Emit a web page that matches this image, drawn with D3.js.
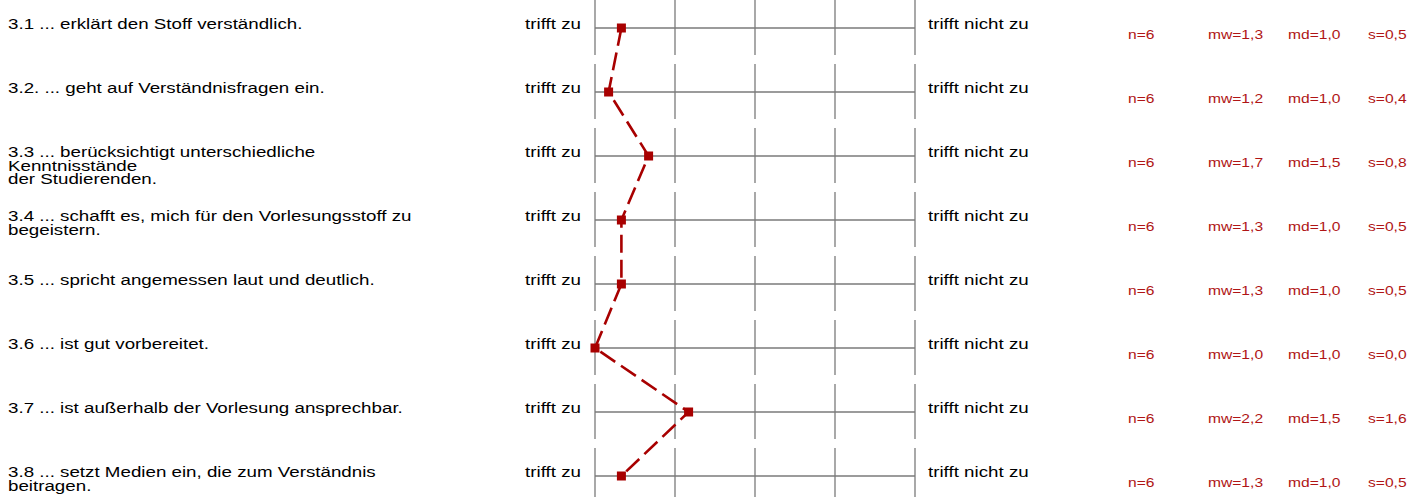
<!DOCTYPE html>
<html>
<head>
<meta charset="utf-8">
<script src="https://cdn.jsdelivr.net/npm/d3@7/dist/d3.min.js"></script>
<style>
  html, body { margin: 0; padding: 0; background: #fff; }
  svg { display: block; }
  text { font-family: "Liberation Sans", Arial, sans-serif; }
</style>
</head>
<body>
<svg id="chart" width="1423" height="497"></svg>
<script>
// Survey items (question text, possibly wrapped over several lines)
const items = [
  ["3.1 ... erklärt den Stoff verständlich."],
  ["3.2. ... geht auf Verständnisfragen ein."],
  ["3.3 ... berücksichtigt unterschiedliche", "Kenntnisstände", "der Studierenden."],
  ["3.4 ... schafft es, mich für den Vorlesungsstoff zu", "begeistern."],
  ["3.5 ... spricht angemessen laut und deutlich."],
  ["3.6 ... ist gut vorbereitet."],
  ["3.7 ... ist außerhalb der Vorlesung ansprechbar."],
  ["3.8 ... setzt Medien ein, die zum Verständnis", "beitragen."]
];
// Per-item statistics
const counts  = [6, 6, 6, 6, 6, 6, 6, 6];
const means   = [1.33, 1.17, 1.67, 1.33, 1.33, 1.0, 2.17, 1.33];
const medians = [1.0, 1.0, 1.5, 1.0, 1.0, 1.0, 1.5, 1.0];
const sds     = [0.5, 0.4, 0.8, 0.5, 0.5, 0.0, 1.6, 0.5];
// Scale anchors and grid steps
const leftPole = "trifft zu";
const rightPole = "trifft nicht zu";
const scaleSteps = [1, 2, 3, 4, 5];

const svg = d3.select("#chart");
const red = "#a80000";
const grid = "#7a7a7a";
const sx = 1.25;          // horizontal stretch of all lettering
const fs = 15, fsStat = 12.5;

const x = d3.scaleLinear().domain([1, 5]).range([595, 915]);
const y = d3.scaleBand().domain(d3.range(items.length)).range([0, 512]);
const cy = i => y(i) + 28;

const fmt = v => d3.format(".1f")(v).replace(".", ",");

function stretchedText(g, px, py, str, size, anchor, color) {
  g.append("text")
    .attr("transform", `translate(${px},${py}) scale(${sx},1)`)
    .attr("font-size", size)
    .attr("text-anchor", anchor)
    .attr("fill", color)
    .text(str);
}

const rows = svg.append("g").selectAll("g").data(items).join("g");

rows.each(function(lines, i) {
  const g = d3.select(this);
  const c = cy(i);
  // question text
  lines.forEach((ln, k) => stretchedText(g, 8, c + 1 + k * 13.5, ln, fs, "start", "#000"));
  // pole labels
  stretchedText(g, 581, c + 1, leftPole, fs, "end", "#000");
  stretchedText(g, 928, c + 1, rightPole, fs, "start", "#000");
  // grid
  g.selectAll("line.v").data(scaleSteps).join("line")
    .attr("class", "v")
    .attr("x1", d => x(d)).attr("x2", d => x(d))
    .attr("y1", c - 28).attr("y2", c + 27)
    .attr("stroke", grid).attr("stroke-width", 1.3);
  g.append("line")
    .attr("x1", x(1)).attr("x2", x(5))
    .attr("y1", c).attr("y2", c)
    .attr("stroke", grid).attr("stroke-width", 1.3);
  // statistics
  const sy = c + 11;
  stretchedText(g, 1128, sy, "n=" + counts[i], fsStat, "start", "#b01515");
  stretchedText(g, 1208, sy, "mw=" + fmt(means[i]), fsStat, "start", "#b01515");
  stretchedText(g, 1288, sy, "md=" + fmt(medians[i]), fsStat, "start", "#b01515");
  stretchedText(g, 1368, sy, "s=" + fmt(sds[i]), fsStat, "start", "#b01515");
});

// profile line through the item means
const line = d3.line().x(d => x(d)).y((d, i) => cy(i));
svg.append("path")
  .datum(means)
  .attr("d", line)
  .attr("fill", "none")
  .attr("stroke", red)
  .attr("stroke-width", 2.6)
  .attr("stroke-dasharray", "18,7");

svg.append("g").selectAll("rect").data(means).join("rect")
  .attr("x", d => x(d) - 4.5)
  .attr("y", (d, i) => cy(i) - 4.5)
  .attr("width", 9).attr("height", 9)
  .attr("fill", red);
</script>
</body>
</html>
